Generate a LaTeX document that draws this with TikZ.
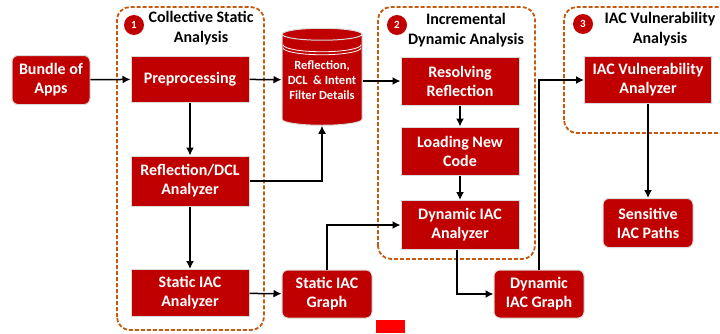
\documentclass[tikz,border=0pt]{standalone}
\usepackage{fontspec}
\setmainfont{Carlito}
\usepackage{tikz}
\usepackage{xcolor}
\usetikzlibrary{arrows.meta}
\usetikzlibrary{positioning}
\usetikzlibrary{shapes.geometric}
\usetikzlibrary{calc}
\definecolor{BOX_RED}{RGB}{192, 0, 0}
\definecolor{PHASE_ORANGE}{RGB}{197, 90, 17}
\definecolor{BOX_EDGE}{RGB}{218, 218, 218}
\definecolor{MARK_RED}{RGB}{255, 0, 0}

\begin{document}
\begin{tikzpicture}[x=1pt, y=1pt,
	stage/.style={draw=BOX_EDGE, line width=1pt, fill=BOX_RED, text=white, align=center,
		font=\bfseries\fontsize{16}{19}\selectfont, inner sep=0pt},
	artefact/.style={stage, rounded corners=6pt},
	phase/.style={draw=PHASE_ORANGE, line width=1.8pt, dash pattern=on 4pt off 2pt, rounded corners=13pt},
	badge/.style={circle, fill=BOX_RED, text=white, font=\bfseries\fontsize{11}{12}\selectfont,
		minimum size=20pt, inner sep=0pt},
	heading/.style={align=center, font=\bfseries\fontsize{16}{19.5}\selectfont},
	flow/.style={-{Latex[length=8pt, width=8pt]}, line width=1.5pt}]
				\useasboundingbox (0, 0) rectangle (720, 333);
				% analysis phases
				\draw[phase] (117, 3) rectangle (264, 326);
				\draw[phase] (378, 74) rectangle (535, 326);
				\draw[phase] (564, 200) rectangle (740, 326);
				\node[badge] (n1) at (134, 308) {1};
				\node[badge] (n2) at (397, 308) {2};
				\node[badge] (n3) at (583, 309) {3};
				\node[heading] (h1) at (201, 305) {Collective Static\\Analysis};
				\node[heading] (h2) at (466, 303) {Incremental\\Dynamic Analysis};
				\node[heading] (h3) at (660, 304) {IAC Vulnerability\\Analysis};
				% boxes
				\node[artefact, minimum width=78, minimum height=49] (bundle) at (51, 253) {Bundle of\\Apps};
				\node[stage, minimum width=118, minimum height=46] (prep) at (190, 254) {Preprocessing};
				\node[stage, minimum width=118, minimum height=50] (refl) at (190, 152) {Reflection/DCL\\Analyzer};
				\node[stage, minimum width=118, minimum height=47] (sana) at (190, 40) {Static IAC\\Analyzer};
				\node[artefact, minimum width=90, minimum height=48] (sgraph) at (327, 39) {Static IAC\\Graph};
				\node[shape=cylinder, shape border rotate=90, aspect=0.175, draw=BOX_EDGE, line width=1pt,
					fill=BOX_RED, text=white, align=center, font=\bfseries\fontsize{12.5}{15}\selectfont,
					minimum width=80, minimum height=97, inner sep=0pt] (db) at (322, 253)
					{Reflection,\\DCL \ \& Intent\\Filter Details};
				\draw[white, line width=0.8pt] ($(db.top)+(-39, -17)$) arc[start angle=180, end angle=360, x radius=39pt, y radius=7pt];
				\draw[white, line width=0.8pt] ($(db.top)+(-39, -20)$) arc[start angle=180, end angle=360, x radius=39pt, y radius=7pt];
				\node[stage, minimum width=118, minimum height=48] (resolve) at (460, 252) {Resolving\\Reflection};
				\node[stage, minimum width=118, minimum height=48] (loadc) at (460, 182) {Loading New\\Code};
				\node[stage, minimum width=118, minimum height=49] (dana) at (460, 108) {Dynamic IAC\\Analyzer};
				\node[artefact, minimum width=90, minimum height=48] (dgraph) at (539, 39) {Dynamic\\IAC Graph};
				\node[stage, minimum width=127, minimum height=47] (iacva) at (648, 253) {IAC Vulnerability\\Analyzer};
				\node[artefact, minimum width=90, minimum height=49] (paths) at (648, 110) {Sensitive\\IAC Paths};
				\node[fill=MARK_RED, minimum width=29, minimum height=13, inner sep=0pt] (mark) at (390.5, 6.5) {};
				% connectors
				\draw[flow] (bundle) to (prep);
				\draw[flow] (prep) to (db);
				\draw[flow] (prep) to (refl);
				\draw[flow] (refl) -| (db);
				\draw[flow] (refl) to (sana);
				\draw[flow] (sana) to (sgraph);
				\draw[flow] (db.east |- resolve) to (resolve);
				\draw[flow] (resolve) to (loadc);
				\draw[flow] (loadc) to (dana);
				\draw[flow] (sgraph) |- (dana);
				\draw[flow] ([xshift=-3pt]dana.south) |- (dgraph);
				\draw[flow] (dgraph) |- (iacva);
				\draw[flow] (iacva) to (paths);
			\end{tikzpicture}
\end{document}
